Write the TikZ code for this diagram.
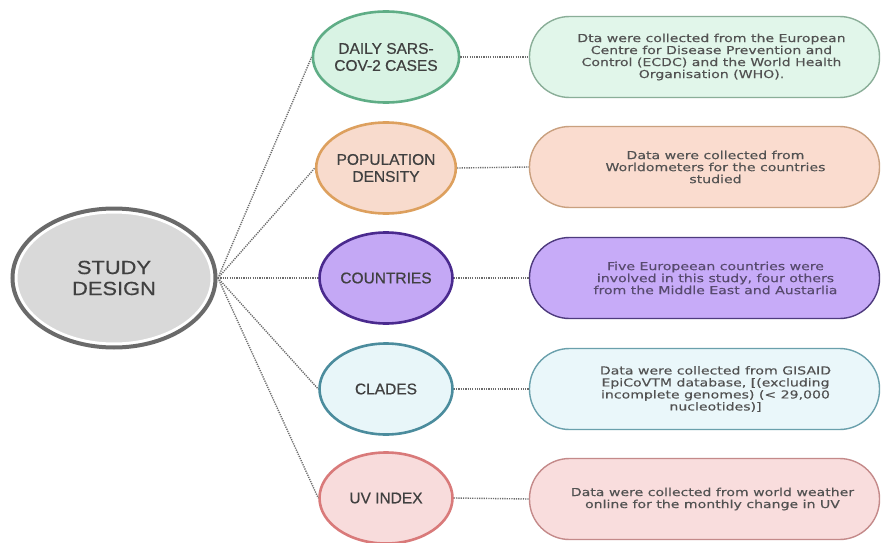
\documentclass[tikz,border=0pt]{standalone}
\usepackage{fontspec}
\setmainfont[FakeBold=0.4]{Liberation Sans}
\newfontfamily\boxfont[FakeStretch=1.28,FakeBold=0.3]{DejaVu Sans}
\newfontfamily\sdfont[FakeStretch=1.15,FakeBold=0.5]{Liberation Sans}
\newfontfamily\lblfont[FakeBold=0.6]{Liberation Sans}
\usetikzlibrary{shapes.geometric}
\definecolor{sdring}{HTML}{6A6A6A}
\definecolor{sdfill}{HTML}{D9D9D9}
\definecolor{txtc}{HTML}{404040}
\definecolor{btc}{HTML}{525252}
\definecolor{conncol}{HTML}{6C6C6C}
\definecolor{gfill}{HTML}{D9F3E4}
\definecolor{gline}{HTML}{5FAD86}
\definecolor{gbfill}{HTML}{E1F6EA}
\definecolor{gbline}{HTML}{8AAE98}
\definecolor{ofill}{HTML}{F8DBCD}
\definecolor{oline}{HTML}{DDA05E}
\definecolor{obfill}{HTML}{FADCCF}
\definecolor{obline}{HTML}{C9A07F}
\definecolor{pfill}{HTML}{C4A8F5}
\definecolor{pline}{HTML}{4A2A8E}
\definecolor{pbfill}{HTML}{C7ABF8}
\definecolor{pbline}{HTML}{4E3B7E}
\definecolor{ptc}{HTML}{574A6E}
\definecolor{cfill}{HTML}{E8F6F9}
\definecolor{cline}{HTML}{4B8C9D}
\definecolor{cbfill}{HTML}{EAF7FA}
\definecolor{cbline}{HTML}{6AA0AC}
\definecolor{ufill}{HTML}{F8DCDC}
\definecolor{uline}{HTML}{D97A7A}
\definecolor{ubfill}{HTML}{F9DDDD}
\definecolor{ubline}{HTML}{C48A8A}
\begin{document}
\begin{tikzpicture}[x=1pt,y=-1pt,
  circ/.style={ellipse, minimum width=133, minimum height=91, line width=2.6, inner sep=0, align=center, font=\lblfont\fontsize{15.5}{17}\selectfont, text=txtc},
  bx/.style={rounded corners=40, minimum width=350, minimum height=81, line width=1.4, inner sep=0},
  btext/.style={align=center, font=\boxfont\fontsize{11}{12}\selectfont, text=btc, inner sep=0},
  conn/.style={draw=conncol, line width=1.4, dash pattern=on 1.2pt off 1.1pt}]
\useasboundingbox (0,0) rectangle (881,543);
\fill[white] (0,0) rectangle (881,543);
% study design
\node[ellipse, minimum width=196, minimum height=132, fill=sdfill, draw=white, line width=3, inner sep=0, align=center, text=txtc, font=\sdfont\fontsize{19}{21}\selectfont] (sd) at (114,278) {STUDY\\DESIGN};
\draw[sdring, line width=4] (sd.center) ellipse [x radius=101.5, y radius=69.5];
\coordinate (hub) at (218,278);
% middle circles
\node[circ, fill=gfill, draw=gline] (c1) at (386,57) {DAILY SARS-\\COV-2 CASES};
\node[circ, fill=ofill, draw=oline] (c2) at (386,168) {POPULATION\\DENSITY};
\node[circ, fill=pfill, draw=pline] (c3) at (386,278) {COUNTRIES};
\node[circ, fill=cfill, draw=cline] (c4) at (386,389) {CLADES};
\node[circ, fill=ufill, draw=uline] (c5) at (386,498) {UV INDEX};
% boxes
\node[bx, fill=gbfill, draw=gbline] (b1) at (704.5,57) {};
\node[bx, fill=obfill, draw=obline] (b2) at (704.5,167) {};
\node[bx, fill=pbfill, draw=pbline] (b3) at (704.5,278) {};
\node[bx, fill=cbfill, draw=cbline] (b4) at (704.5,389) {};
\node[bx, fill=ubfill, draw=ubline] (b5) at (704.5,499) {};
\node[btext] (t1) at ([xshift=7]b1.center) {Dta were collected from the European\\Centre for Disease Prevention and\\Control (ECDC) and the World Health\\Organisation (WHO).};
\node[btext] (t2) at ([xshift=11]b2.center) {Data were collected from\\Worldometers for the countries\\studied};
\node[btext, text=ptc] (t3) at ([xshift=11]b3.center) {Five Europeean countries were\\involved in this study, four others\\from the Middle East and Austarlia};
\node[btext] (t4) at ([xshift=11]b4.center) {Data were collected from GISAID\\EpiCoVTM database, [(excluding\\incomplete genomes) (< 29,000\\nucleotides)]};
\node[btext] (t5) at ([xshift=8]b5.center) {Data were collected from world weather\\online for the monthly change in UV};
% connectors
\foreach \i in {1,...,5} {
  \draw[conn] (hub) -- (c\i.west);
  \draw[conn] (c\i.east) -- (b\i.west);
}
\end{tikzpicture}
\end{document}
